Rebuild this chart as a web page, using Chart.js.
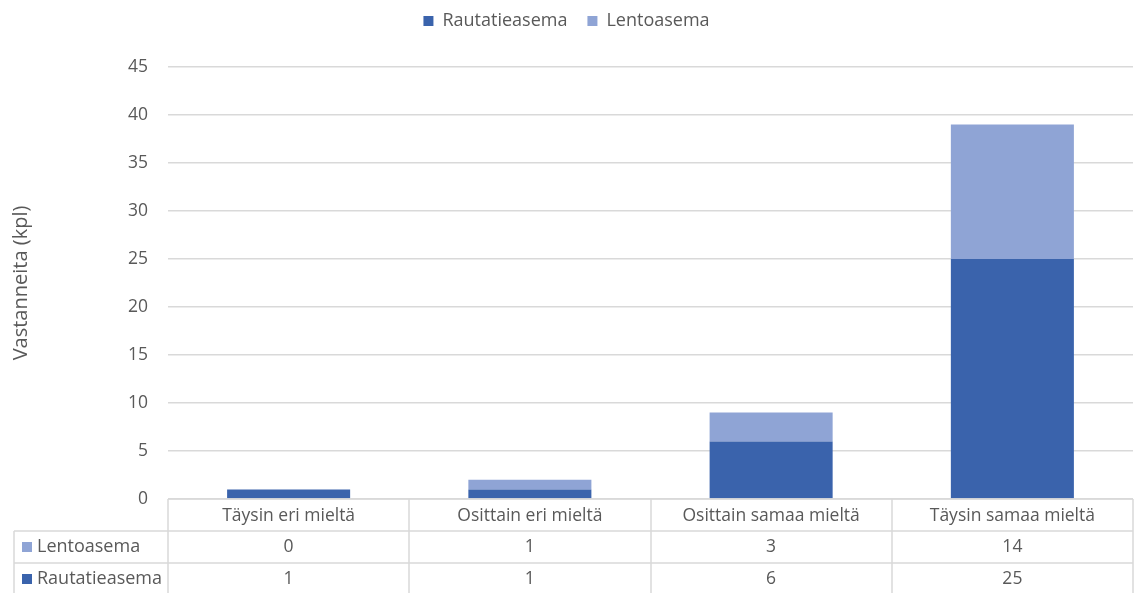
<!DOCTYPE html>
<html>
<head>
<meta charset="utf-8">
<script src="https://cdn.jsdelivr.net/npm/chart.js@4/dist/chart.umd.min.js"></script>
<style>
    body { margin: 0; background: #fff; }
    #wrap { width: 1137px; height: 593px; }
</style>
</head>
<body>
<div id="wrap"><canvas id="chart" width="1137" height="593"></canvas></div>
<script>
// Kyselyn vastaukset
var categories = ["Täysin eri mieltä", "Osittain eri mieltä", "Osittain samaa mieltä", "Täysin samaa mieltä"];
var rautatieasema = [1, 1, 6, 25];
var lentoasema = [0, 1, 3, 14];
var yTicks = [0, 5, 10, 15, 20, 25, 30, 35, 40, 45];

var DARK = '#3a63ac';
var LIGHT = '#8fa4d5';
var TEXT = '#595959';
var LINE = '#d9d9d9';
var FONT = '"Open Sans", "Noto Sans", sans-serif';

// Legend box gets a fixed height so the plot starts at the same place,
// and sits a bit higher than its own padding would put it
var legendHeight = {
    id: 'legendHeight',
    beforeUpdate: function(chart) {
        var legend = chart.legend;
        if (!legend || legend._fixed) return;
        var fit = legend.fit;
        legend.fit = function() {
            fit.call(this);
            this.height = 67;
        };
        legend._fixed = true;
    },
    afterLayout: function(chart) {
        if (chart.legend) chart.legend.top -= 8;
    }
};

// Data table under the plot, columns follow the x scale
var dataTable = {
    id: 'dataTable',
    afterDraw: function(chart) {
        var ctx = chart.ctx;
        var area = chart.chartArea;
        var x = chart.scales.x;
        var colW = x.width / categories.length;
        var rowH = 32;
        var top = area.bottom;
        var tableLeft = 14;
        var rows = [
            { name: 'Lentoasema', color: LIGHT, values: lentoasema },
            { name: 'Rautatieasema', color: DARK, values: rautatieasema }
        ];

        ctx.save();
        ctx.strokeStyle = LINE;
        ctx.lineWidth = 1.5;
        ctx.beginPath();
        // horizontal rules
        ctx.moveTo(area.left, top);
        ctx.lineTo(area.right, top);
        for (var r = 1; r <= 2; r++) {
            ctx.moveTo(tableLeft, top + r * rowH);
            ctx.lineTo(area.right, top + r * rowH);
        }
        // vertical rules
        ctx.moveTo(tableLeft, top + rowH);
        ctx.lineTo(tableLeft, chart.height);
        for (var c = 0; c <= categories.length; c++) {
            var vx = Math.round(area.left + c * colW);
            ctx.moveTo(vx, top);
            ctx.lineTo(vx, chart.height);
        }
        ctx.stroke();

        ctx.font = '17.5px ' + FONT;
        ctx.fillStyle = TEXT;
        ctx.textAlign = 'center';
        ctx.textBaseline = 'middle';
        categories.forEach(function(cat, i) {
            ctx.fillText(cat, x.getPixelForValue(i), top + rowH / 2 + 1);
        });

        rows.forEach(function(row, r) {
            var cy = top + (r + 1) * rowH + rowH / 2;
            ctx.fillStyle = row.color;
            ctx.fillRect(tableLeft + 8, cy - 5, 10, 10);
            ctx.fillStyle = TEXT;
            ctx.textAlign = 'left';
            ctx.font = '18px ' + FONT;
            ctx.fillText(row.name, tableLeft + 23, cy);
            ctx.textAlign = 'center';
            ctx.font = '17.5px ' + FONT;
            row.values.forEach(function(v, i) {
                ctx.fillText(String(v), x.getPixelForValue(i), cy);
            });
        });
        ctx.restore();
    }
};

new Chart(document.getElementById('chart'), {
    type: 'bar',
    data: {
        labels: categories,
        datasets: [
            { label: 'Rautatieasema', data: rautatieasema, backgroundColor: DARK },
            { label: 'Lentoasema', data: lentoasema, backgroundColor: LIGHT }
        ]
    },
    options: {
        responsive: false,
        animation: false,
        layout: { padding: { right: 4 } },
        datasets: { bar: { categoryPercentage: 1, barPercentage: 0.51 } },
        plugins: {
            tooltip: { enabled: false },
            legend: {
                position: 'top',
                labels: {
                    boxWidth: 10,
                    boxHeight: 10,
                    padding: 20,
                    color: TEXT,
                    font: { family: FONT, size: 18 }
                }
            }
        },
        scales: {
            x: {
                stacked: true,
                display: false
            },
            y: {
                stacked: true,
                min: 0,
                max: 45,
                afterBuildTicks: function(scale) {
                    scale.ticks = yTicks.map(function(v) { return { value: v }; });
                },
                afterFit: function(scale) {
                    scale.width = 168;
                    scale.paddingTop = 0;
                    scale.paddingBottom = 94;
                },
                grid: { color: LINE, lineWidth: 1.5, drawTicks: false },
                border: { display: false },
                ticks: {
                    padding: 20,
                    color: TEXT,
                    font: { family: FONT, size: 17.5 }
                },
                title: {
                    display: true,
                    text: 'Vastanneita (kpl)',
                    color: TEXT,
                    padding: { top: 9 },
                    font: { family: FONT, size: 20 }
                }
            }
        }
    },
    plugins: [legendHeight, dataTable]
});
</script>
</body>
</html>
